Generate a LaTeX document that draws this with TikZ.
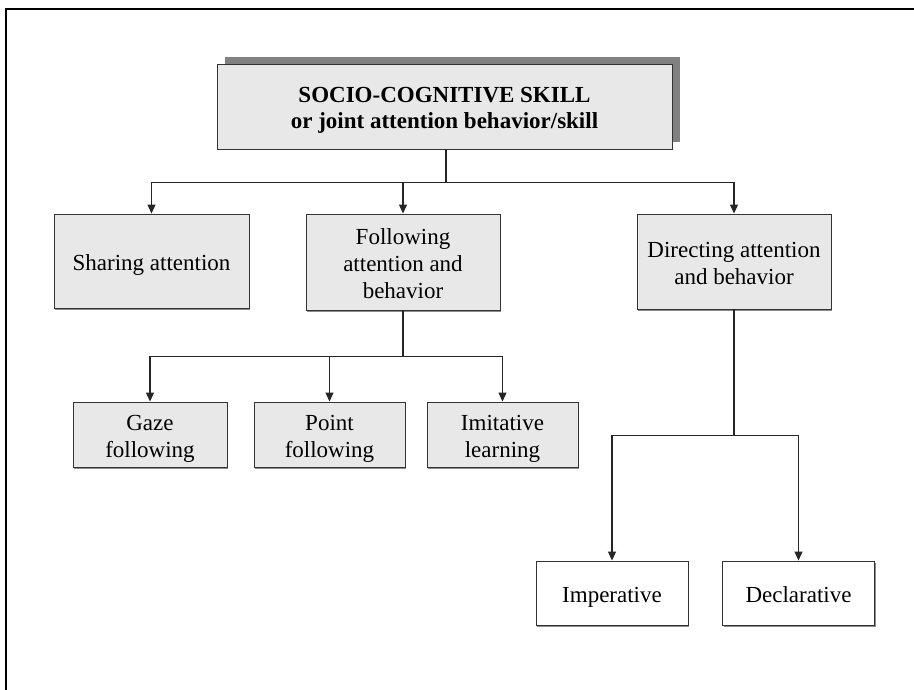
\documentclass[tikz,border=0pt]{standalone}
\usepackage{fontspec}
\setmainfont{Liberation Serif}
\usepackage{tikz}
\usetikzlibrary{arrows.meta, shadows, positioning}
\definecolor{boxgray}{RGB}{232, 232, 232}
\definecolor{shadegray}{RGB}{128, 128, 128}
% text sits a little low in the boxes
\newcommand{\boxtext}[1]{\raisebox{-4pt}[\height][\depth]{\begin{tabular}{@{}c@{}}#1\end{tabular}}}

\tikzset{
  skillbox/.style={draw=black!80, fill=boxgray, line width=0.9, inner sep=0pt,
    font=\fontsize{23}{27}\selectfont,
    general shadow={fill=black!45, shadow xshift=1.2pt, shadow yshift=-1.5pt}},
  plainbox/.style={skillbox, fill=white},
  link/.style={line width=1.1, draw=black!85},
  arr/.style={link, -{Triangle[length=9pt, width=8pt]}}
}

\begin{document}
\begin{tikzpicture}[x=1pt, y=-1pt]
  \useasboundingbox (0,0) rectangle (914,690);
  % frame
  \draw[line width=2] (6,690) -- (6,9) -- (914,9);

  % root
  \node[skillbox, minimum width=455, minimum height=85,
        font=\fontsize{23}{26}\selectfont\bfseries,
        general shadow={fill=shadegray, shadow xshift=8pt, shadow yshift=7pt}]
    (root) at (444.5,106.5)
    {\boxtext{SOCIO-COGNITIVE SKILL\\or joint attention behavior/skill}};

  % first level
  \node[skillbox, minimum width=195, minimum height=94] (share) at (151.5,261)
    {\boxtext{Sharing attention}};
  \node[skillbox, minimum width=194, minimum height=96] (follow) at (403,262)
    {\boxtext{Following\\attention and\\behavior}};
  \node[skillbox, minimum width=194, minimum height=95] (direct) at (734,261.5)
    {\boxtext{Directing attention\\and behavior}};

  % second level
  \node[skillbox, minimum width=154, minimum height=65] (gaze) at (150,434.5)
    {\boxtext{Gaze\\following}};
  \node[skillbox, minimum width=151, minimum height=65] (point) at (329.5,434.5)
    {\boxtext{Point\\following}};
  \node[skillbox, minimum width=151, minimum height=65] (imit) at (502.5,434.5)
    {\boxtext{Imitative\\learning}};
  \node[plainbox, minimum width=152, minimum height=64] (imper) at (612,593)
    {\boxtext{Imperative}};
  \node[plainbox, minimum width=152, minimum height=64] (decl) at (798.5,593)
    {\boxtext{Declarative}};

  % junctions
  \path (root.south) ++(1.5,33) coordinate (j1);
  \path (follow.south) ++(0,46) coordinate (j2);
  \path (direct.south) ++(0,126) coordinate (j3);

  \draw[link] (root.south -| j1) -- (j1);
  \draw[arr] (j1) -| (share);
  \draw[arr] (j1) -| (follow);
  \draw[arr] (j1) -| (direct);

  \draw[link] (follow.south) -- (j2);
  \draw[arr] (j2) -| (gaze);
  \draw[arr] (j2) -| (point);
  \draw[arr] (j2) -| (imit);

  \draw[link] (direct.south) -- (j3);
  \draw[arr] (j3) -| (imper);
  \draw[arr] (j3) -| (decl);
\end{tikzpicture}
\end{document}
